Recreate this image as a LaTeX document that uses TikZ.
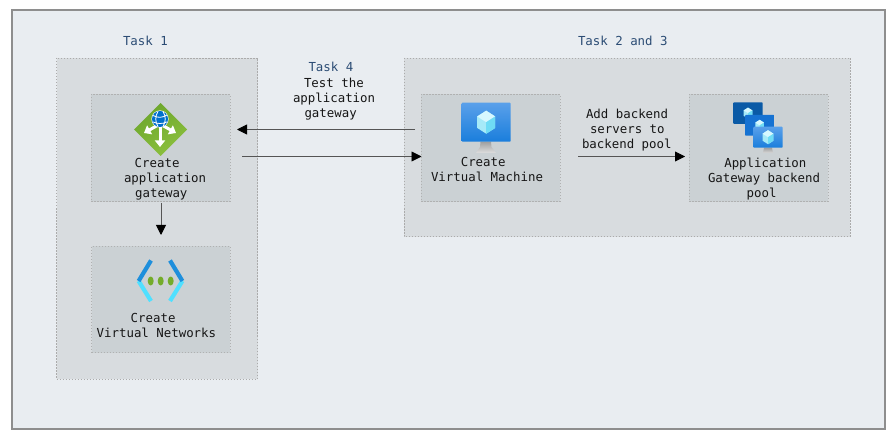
\documentclass[tikz,border=0pt]{standalone}
\usepackage{fontspec}
\setmonofont{DejaVu Sans Mono}
\usetikzlibrary{arrows.meta,calc}
\definecolor{pagebg}{HTML}{E9EDF1}
\definecolor{framec}{HTML}{8E8E8E}
\definecolor{groupbg}{HTML}{D8DCDF}
\definecolor{innerbg}{HTML}{CBD1D4}
\definecolor{dotc}{HTML}{ABABAB}
\definecolor{taskc}{HTML}{2B4C74}
\definecolor{txtc}{HTML}{161616}
\definecolor{arrc}{HTML}{555555}
\definecolor{scrT}{HTML}{5AA0EA}
\definecolor{scrB}{HTML}{1A7EDC}
\definecolor{scrBack}{HTML}{0A5AA6}
\definecolor{scrMid}{HTML}{1672D2}
\definecolor{cubeA}{HTML}{A6EAF8}
\definecolor{cubeB}{HTML}{D6F8FF}
\definecolor{cubeC}{HTML}{6FDCF5}
\tikzset{
  x=1pt,y=-1pt,
  groupbox/.style={fill=groupbg,draw=dotc,line width=0.9pt,dash pattern=on 1.5pt off 1.5pt},
  innerbox/.style={fill=innerbg,draw=dotc!85!innerbg,line width=0.8pt,dash pattern=on 1.5pt off 1.5pt},
  lbl/.style={anchor=west,inner sep=0pt,outer sep=0pt,align=left,text=txtc,
    font=\ttfamily\fontsize{12.4}{15}\selectfont},
  tasklbl/.style={lbl,text=taskc},
  conn/.style={draw=arrc,line width=0.9pt,-{Triangle[length=10pt,width=10pt,color=black]}},
  screen/.style={rounded corners=0.8pt},
}
\newcommand{\hexcube}[3]{% x y r
  \fill[cubeA] ({#1},{#2-#3}) -- ({#1+.78*#3},{#2-.5*#3}) -- ({#1+.78*#3},{#2+.5*#3}) -- ({#1},{#2+#3}) -- ({#1-.78*#3},{#2+.5*#3}) -- ({#1-.78*#3},{#2-.5*#3}) -- cycle;
  \fill[cubeB] ({#1},{#2-#3}) -- ({#1+.78*#3},{#2-.5*#3}) -- ({#1},{#2}) -- ({#1-.78*#3},{#2-.5*#3}) -- cycle;
  \fill[cubeC] ({#1},{#2}) -- ({#1+.78*#3},{#2-.5*#3}) -- ({#1+.78*#3},{#2+.5*#3}) -- ({#1},{#2+#3}) -- cycle;
}
\newcommand{\vmscreen}[7]{% x0 y0 x1 y1 topcolor botcolor cube-radius
  \shade[screen,top color=#5,bottom color=#6] (#1,#2) rectangle (#3,#4);
  \hexcube{(#1+#3)/2}{(#2+#4)/2}{#7}
}
\begin{document}
\begin{tikzpicture}
\useasboundingbox (0,0) rectangle (893,438);
\fill[white] (0,0) rectangle (893,438);
\draw[fill=pagebg,draw=framec,line width=2pt] (11.5,10.5) rectangle (885,429);

% groups
\draw[groupbox] (56.5,58) rectangle (257.5,379);
\draw[groupbox] (404,58) rectangle (850,236.5);

% inner boxes
\node[innerbox,minimum width=138.5pt,minimum height=107.5pt,inner sep=0pt,anchor=north west] (agw) at (91,94) {};
\node[innerbox,minimum width=138.5pt,minimum height=106.5pt,inner sep=0pt,anchor=north west] (vnet) at (91.3,245.7) {};
\node[innerbox,minimum width=138.5pt,minimum height=107.5pt,inner sep=0pt,anchor=north west] (vm) at (421,94) {};
\node[innerbox,minimum width=138.5pt,minimum height=107.5pt,inner sep=0pt,anchor=north west] (pool) at (689,94) {};

% gateway icon
\definecolor{gwA}{HTML}{6CA62C}\definecolor{gwB}{HTML}{8CC03E}
\shade[left color=gwA,right color=gwB,shading angle=30] (160.5,103) -- (187,129.5) -- (160.5,156) -- (134,129.5) -- cycle;
\foreach \tipx/\tipy in {160/147,144/133,176/133}
  \draw[white,line width=3pt,-{Triangle[length=6.5pt,width=10pt]}] (160,124) -- (\tipx,\tipy);
\fill[white] (160,119) circle (8.6);
\fill[blue!45!cyan!80!black] (160,119) circle (8);
\draw[white,line width=0.8pt] (153,115.5) .. controls (158,118) and (162,118) .. (167,115)
  (153,122) .. controls (158,124) and (162,124) .. (167,122)
  (158,111.5) .. controls (155,116) and (155,122) .. (158,126.5)
  (163,111.5) .. controls (166,116) and (166,122) .. (163,126.5);

% vnet icon
\definecolor{vnA}{HTML}{1E8FDC}\definecolor{vnB}{HTML}{50E0FF}\definecolor{vnG}{HTML}{74AC2B}
\draw[vnB,line width=4.2pt] (151,301) -- (138.6,281);
\draw[vnB,line width=4.2pt] (170,301) -- (182.4,281);
\draw[vnA,line width=4.2pt] (151,260.5) -- (138.6,281);
\draw[vnA,line width=4.2pt] (170,260.5) -- (182.4,281);
\foreach \cx in {150.7,160.7,170.7} \fill[vnG] (\cx,281) ellipse (3 and 4.5);

% virtual machine icon
\shade[top color=gray!75,bottom color=gray!25] (480.5,141.7) -- (491,141.7) -- (491.5,147) -- (496,153) -- (476,153) -- (480,147) -- cycle;
\vmscreen{461.7}{102.7}{510.7}{141.7}{scrT}{scrB}{11.5}

% backend pool icon
\shade[top color=gray!75,bottom color=gray!30] (764,147.7) -- (772,147.7) -- (773,153) -- (763,153) -- cycle;
\vmscreen{733.3}{102.3}{762.7}{124}{scrBack}{scrBack}{5.5}
\vmscreen{745}{115}{774.3}{135.7}{scrMid}{scrMid}{5.5}
\vmscreen{753.3}{126.7}{782.7}{147.7}{scrT}{scrB}{7}

% labels
\node[tasklbl] (t1) at (123,40.5) {Task 1};
\node[tasklbl] (t23) at (578,40.5) {Task 2 and 3};
\node[tasklbl] (t4) at (308.5,67) {Task 4};
\node[lbl] (t4txt) at (293,99) {\hspace*{11pt}Test the\\application\\\hspace*{11.5pt}gateway};
\node[lbl] (agwtxt) at (124,179) {\hspace*{10.7pt}Create\\application\\\hspace*{11.2pt}gateway};
\node[lbl] (vnettxt) at (96.7,325.5) {\hspace*{34pt}Create\\Virtual Networks};
\node[lbl] (vmtxt) at (431,169) {\hspace*{29.8pt}Create\\Virtual Machine};
\node[lbl] (pooltxt) at (708,179) {\hspace*{16.3pt}Application\\Gateway backend\\\hspace*{38.7pt}pool};
\node[lbl] (addtxt) at (582,130) {\hspace*{4pt}Add backend\\\hspace*{8pt}servers to\\backend pool};

% connectors
\coordinate (c1s) at (415,129.5); \coordinate (c1e) at (237,129.5);
\coordinate (c2s) at (242,156.5); \coordinate (c2e) at (421.5,156.5);
\coordinate (c3s) at (578,156.5); \coordinate (c3e) at (685,156.5);
\coordinate (c4s) at (161,203); \coordinate (c4e) at (161,235);
\draw[conn] (c1s) -- (c1e);
\draw[conn] (c2s) -- (c2e);
\draw[conn] (c3s) -- (c3e);
\draw[conn] (c4s) -- (c4e);
\end{tikzpicture}
\end{document}
